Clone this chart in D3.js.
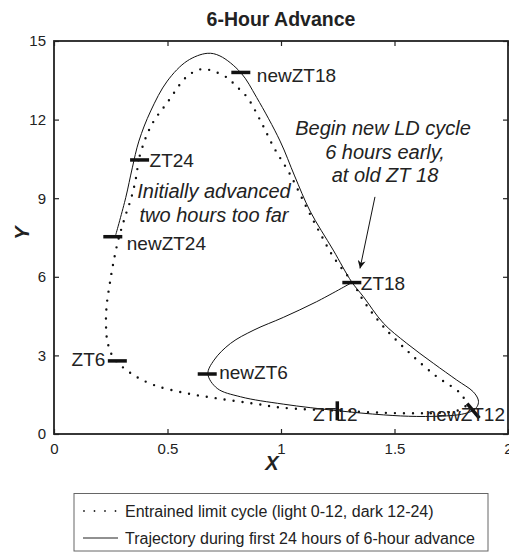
<!DOCTYPE html>
<html>
<head>
<meta charset="utf-8">
<script src="https://d3js.org/d3.v7.min.js"></script>
<style>
  body { margin: 0; background: #fff; }
  svg { font-family: "Liberation Sans", Arial, sans-serif; }
</style>
</head>
<body>
<script>
// entrained limit cycle, ZT0 -> ZT24
const cycleX = [0.372, 0.362, 0.342, 0.313, 0.283, 0.261, 0.245, 0.232, 0.229, 0.236, 0.262, 0.338, 0.44, 0.587, 0.734, 0.881, 1.01, 1.25, 1.45, 1.6, 1.70, 1.78, 1.815, 1.80, 1.774, 1.686, 1.568, 1.451, 1.37, 1.315, 1.23, 1.17, 1.113, 1.04, 0.969, 0.91, 0.852, 0.80, 0.763, 0.683, 0.646, 0.609, 0.573, 0.499, 0.44, 0.404, 0.372];
const cycleY = [10.45, 9.82, 9.06, 8.29, 7.40, 6.51, 5.7, 4.9, 4.2, 3.5, 2.92, 2.32, 1.87, 1.55, 1.34, 1.16, 1.0, 0.89, 0.81, 0.79, 0.81, 0.9, 1.1, 1.45, 1.68, 2.19, 3.08, 4.10, 5.0, 5.78, 6.77, 7.7, 8.64, 9.91, 10.93, 11.95, 12.84, 13.3, 13.6, 13.9, 13.92, 13.79, 13.54, 12.65, 11.95, 11.31, 10.45];

// trajectory after the 6-hour advance, starting at old ZT18
const trajX = [1.312, 1.157, 1.01, 0.881, 0.778, 0.705, 0.678, 0.719, 0.822, 1.01, 1.248, 1.451, 1.598, 1.744, 1.81, 1.85, 1.867, 1.869, 1.847, 1.774, 1.671, 1.554, 1.451, 1.363, 1.311, 1.23, 1.128, 1.06, 0.996, 0.893, 0.823, 0.731, 0.675, 0.587, 0.499, 0.426, 0.374, 0.345, 0.316, 0.272];
const trajY = [5.78, 5.05, 4.45, 3.97, 3.46, 2.82, 2.29, 1.74, 1.42, 1.14, 0.89, 0.73, 0.67, 0.70, 0.78, 0.92, 1.10, 1.30, 1.61, 2.06, 2.70, 3.46, 4.23, 5.24, 5.81, 7.02, 8.51, 9.85, 11.18, 12.84, 13.79, 14.43, 14.53, 14.24, 13.47, 12.33, 11.18, 10.16, 9.02, 7.6];

// time markers
const markNames = ["ZT24", "newZT24", "ZT6", "newZT6", "ZT18", "newZT18", "ZT12", "newZT12"];
const markX = [0.377, 0.259, 0.279, 0.675, 1.312, 0.823, 1.248, 1.847];
const markY = [10.46, 7.53, 2.79, 2.29, 5.78, 13.80, 0.885, 0.885];
const markAngle = [0, 0, 0, 0, 0, 0, 90, 50];

const xTicks = [0, 0.5, 1, 1.5, 2];
const yTicks = [0, 3, 6, 9, 12, 15];

const w = 509, h = 552;
const svg = d3.select("body").append("svg").attr("width", w).attr("height", h);

const x = d3.scaleLinear().domain([0, 2]).range([54, 508]);
const y = d3.scaleLinear().domain([0, 15]).range([434, 41]);

// title
svg.append("text")
   .attr("x", 281).attr("y", 26)
   .attr("text-anchor", "middle")
   .style("font-weight", "bold").style("font-size", "19.5px").attr("fill", "#222")
   .text("6-Hour Advance");

// axes (ticks pointing in, like matlab)
svg.append("g").attr("transform", "translate(0,434)")
   .call(d3.axisBottom(x).tickValues(xTicks).tickSizeInner(-5).tickSizeOuter(0).tickPadding(9)
         .tickFormat(d3.format("")));
svg.append("g").attr("transform", "translate(0,41)")
   .call(d3.axisTop(x).tickValues(xTicks).tickSizeInner(-5).tickSizeOuter(0).tickFormat(""));
svg.append("g").attr("transform", "translate(54,0)")
   .call(d3.axisLeft(y).tickValues(yTicks).tickSizeInner(-5).tickSizeOuter(0).tickPadding(8));
svg.append("g").attr("transform", "translate(508,0)")
   .call(d3.axisRight(y).tickValues(yTicks).tickSizeInner(-5).tickSizeOuter(0).tickFormat(""));

svg.selectAll(".domain").remove();
svg.selectAll(".tick line").attr("stroke", "#222").attr("stroke-width", 1.2);
svg.selectAll(".tick text").style("font-size", "15px").attr("fill", "#222")
   .style("font-family", "Liberation Sans, Arial, sans-serif");

svg.append("rect")
   .attr("x", 54).attr("y", 41).attr("width", 454).attr("height", 393)
   .attr("fill", "none").attr("stroke", "#222").attr("stroke-width", 1.8);

// axis labels
svg.append("text")
   .attr("x", 272).attr("y", 470)
   .attr("text-anchor", "middle")
   .style("font-weight", "bold").style("font-style", "italic").style("font-size", "20px")
   .attr("fill", "#222").text("X");
svg.append("text")
   .attr("transform", "translate(29,233) rotate(-90)")
   .attr("text-anchor", "middle")
   .style("font-weight", "bold").style("font-style", "italic").style("font-size", "20px")
   .attr("fill", "#222").text("Y");

// curves
const line = d3.line().x(d => x(d[0])).y(d => y(d[1])).curve(d3.curveCatmullRom);
const cycle = cycleX.map((v, i) => [v, cycleY[i]]);
const traj = trajX.map((v, i) => [v, trajY[i]]);

svg.append("path").datum(cycle)
   .attr("d", line)
   .attr("fill", "none").attr("stroke", "#111").attr("stroke-width", 2.4)
   .attr("stroke-linecap", "round").attr("stroke-dasharray", "0 9");
svg.append("path").datum(traj)
   .attr("d", line)
   .attr("fill", "none").attr("stroke", "#111").attr("stroke-width", 1);

// markers
markNames.forEach(function(name, i) {
  const cx = x(markX[i]), cy = y(markY[i]);
  svg.append("line")
     .attr("x1", -9.5).attr("x2", 9.5).attr("y1", 0).attr("y2", 0)
     .attr("transform", "translate(" + cx + "," + cy + ") rotate(" + markAngle[i] + ")")
     .attr("stroke", "#111").attr("stroke-width", 3.5);
});

// marker labels
const lab = svg.append("g").style("font-size", "19px").attr("fill", "#222");
lab.append("text").attr("x", x(markX[0]) + 10).attr("y", y(markY[0]) + 7).text("ZT24");
lab.append("text").attr("x", x(markX[1]) + 14).attr("y", y(markY[1]) + 13).text("newZT24");
lab.append("text").attr("x", x(markX[2]) - 12).attr("y", y(markY[2]) + 5).attr("text-anchor", "end").text("ZT6");
lab.append("text").attr("x", x(markX[3]) + 12).attr("y", y(markY[3]) + 5).text("newZT6");
lab.append("text").attr("x", x(markX[4]) + 9).attr("y", y(markY[4]) + 7).text("ZT18");
lab.append("text").attr("x", x(markX[5]) + 16).attr("y", y(markY[5]) + 10).text("newZT18");
lab.append("text").attr("x", x(markX[6]) - 2).attr("y", 421).attr("text-anchor", "middle").text("ZT12");
lab.append("text").attr("x", 505).attr("y", 421).attr("text-anchor", "end").text("newZT12");

// italic notes
const note = svg.append("g").style("font-size", "20px").style("font-style", "italic")
   .attr("fill", "#222").attr("text-anchor", "middle");
note.append("text").attr("x", 383).attr("y", 135).text("Begin new LD cycle");
note.append("text").attr("x", 385).attr("y", 158.5).text("6 hours early,");
note.append("text").attr("x", 385).attr("y", 182).text("at old ZT 18");
note.append("text").attr("x", 214).attr("y", 198).text("Initially advanced");
note.append("text").attr("x", 214).attr("y", 222).text("two hours too far");

// arrow
svg.append("defs").append("marker")
   .attr("id", "head").attr("viewBox", "0 0 10 10")
   .attr("refX", 10).attr("refY", 5)
   .attr("markerWidth", 10).attr("markerHeight", 8)
   .attr("markerUnits", "userSpaceOnUse")
   .attr("orient", "auto")
   .append("path").attr("d", "M0,0 L10,5 L0,10 L3,5 Z").attr("fill", "#111");
svg.append("line")
   .attr("x1", x(1.414)).attr("y1", y(9.05))
   .attr("x2", x(1.348)).attr("y2", y(6.32))
   .attr("stroke", "#111").attr("stroke-width", 1)
   .attr("marker-end", "url(#head)");

// legend
const lg = svg.append("g");
lg.append("rect").attr("x", 74).attr("y", 493.5).attr("width", 414).attr("height", 57.5)
  .attr("fill", "#fff").attr("stroke", "#666").attr("stroke-width", 1);
lg.append("line").attr("x1", 84).attr("x2", 116).attr("y1", 511).attr("y2", 511)
  .attr("stroke", "#222").attr("stroke-width", 1.8).attr("stroke-linecap", "round")
  .attr("stroke-dasharray", "0 10.5");
lg.append("line").attr("x1", 83).attr("x2", 118).attr("y1", 538).attr("y2", 538)
  .attr("stroke", "#222").attr("stroke-width", 1);
lg.append("text").attr("x", 125).attr("y", 516.5).style("font-size", "16px").attr("fill", "#222")
  .text("Entrained limit cycle (light 0-12, dark 12-24)");
lg.append("text").attr("x", 125).attr("y", 543.5).style("font-size", "16px").attr("fill", "#222")
  .text("Trajectory during first 24 hours of 6-hour advance");
</script>
</body>
</html>
